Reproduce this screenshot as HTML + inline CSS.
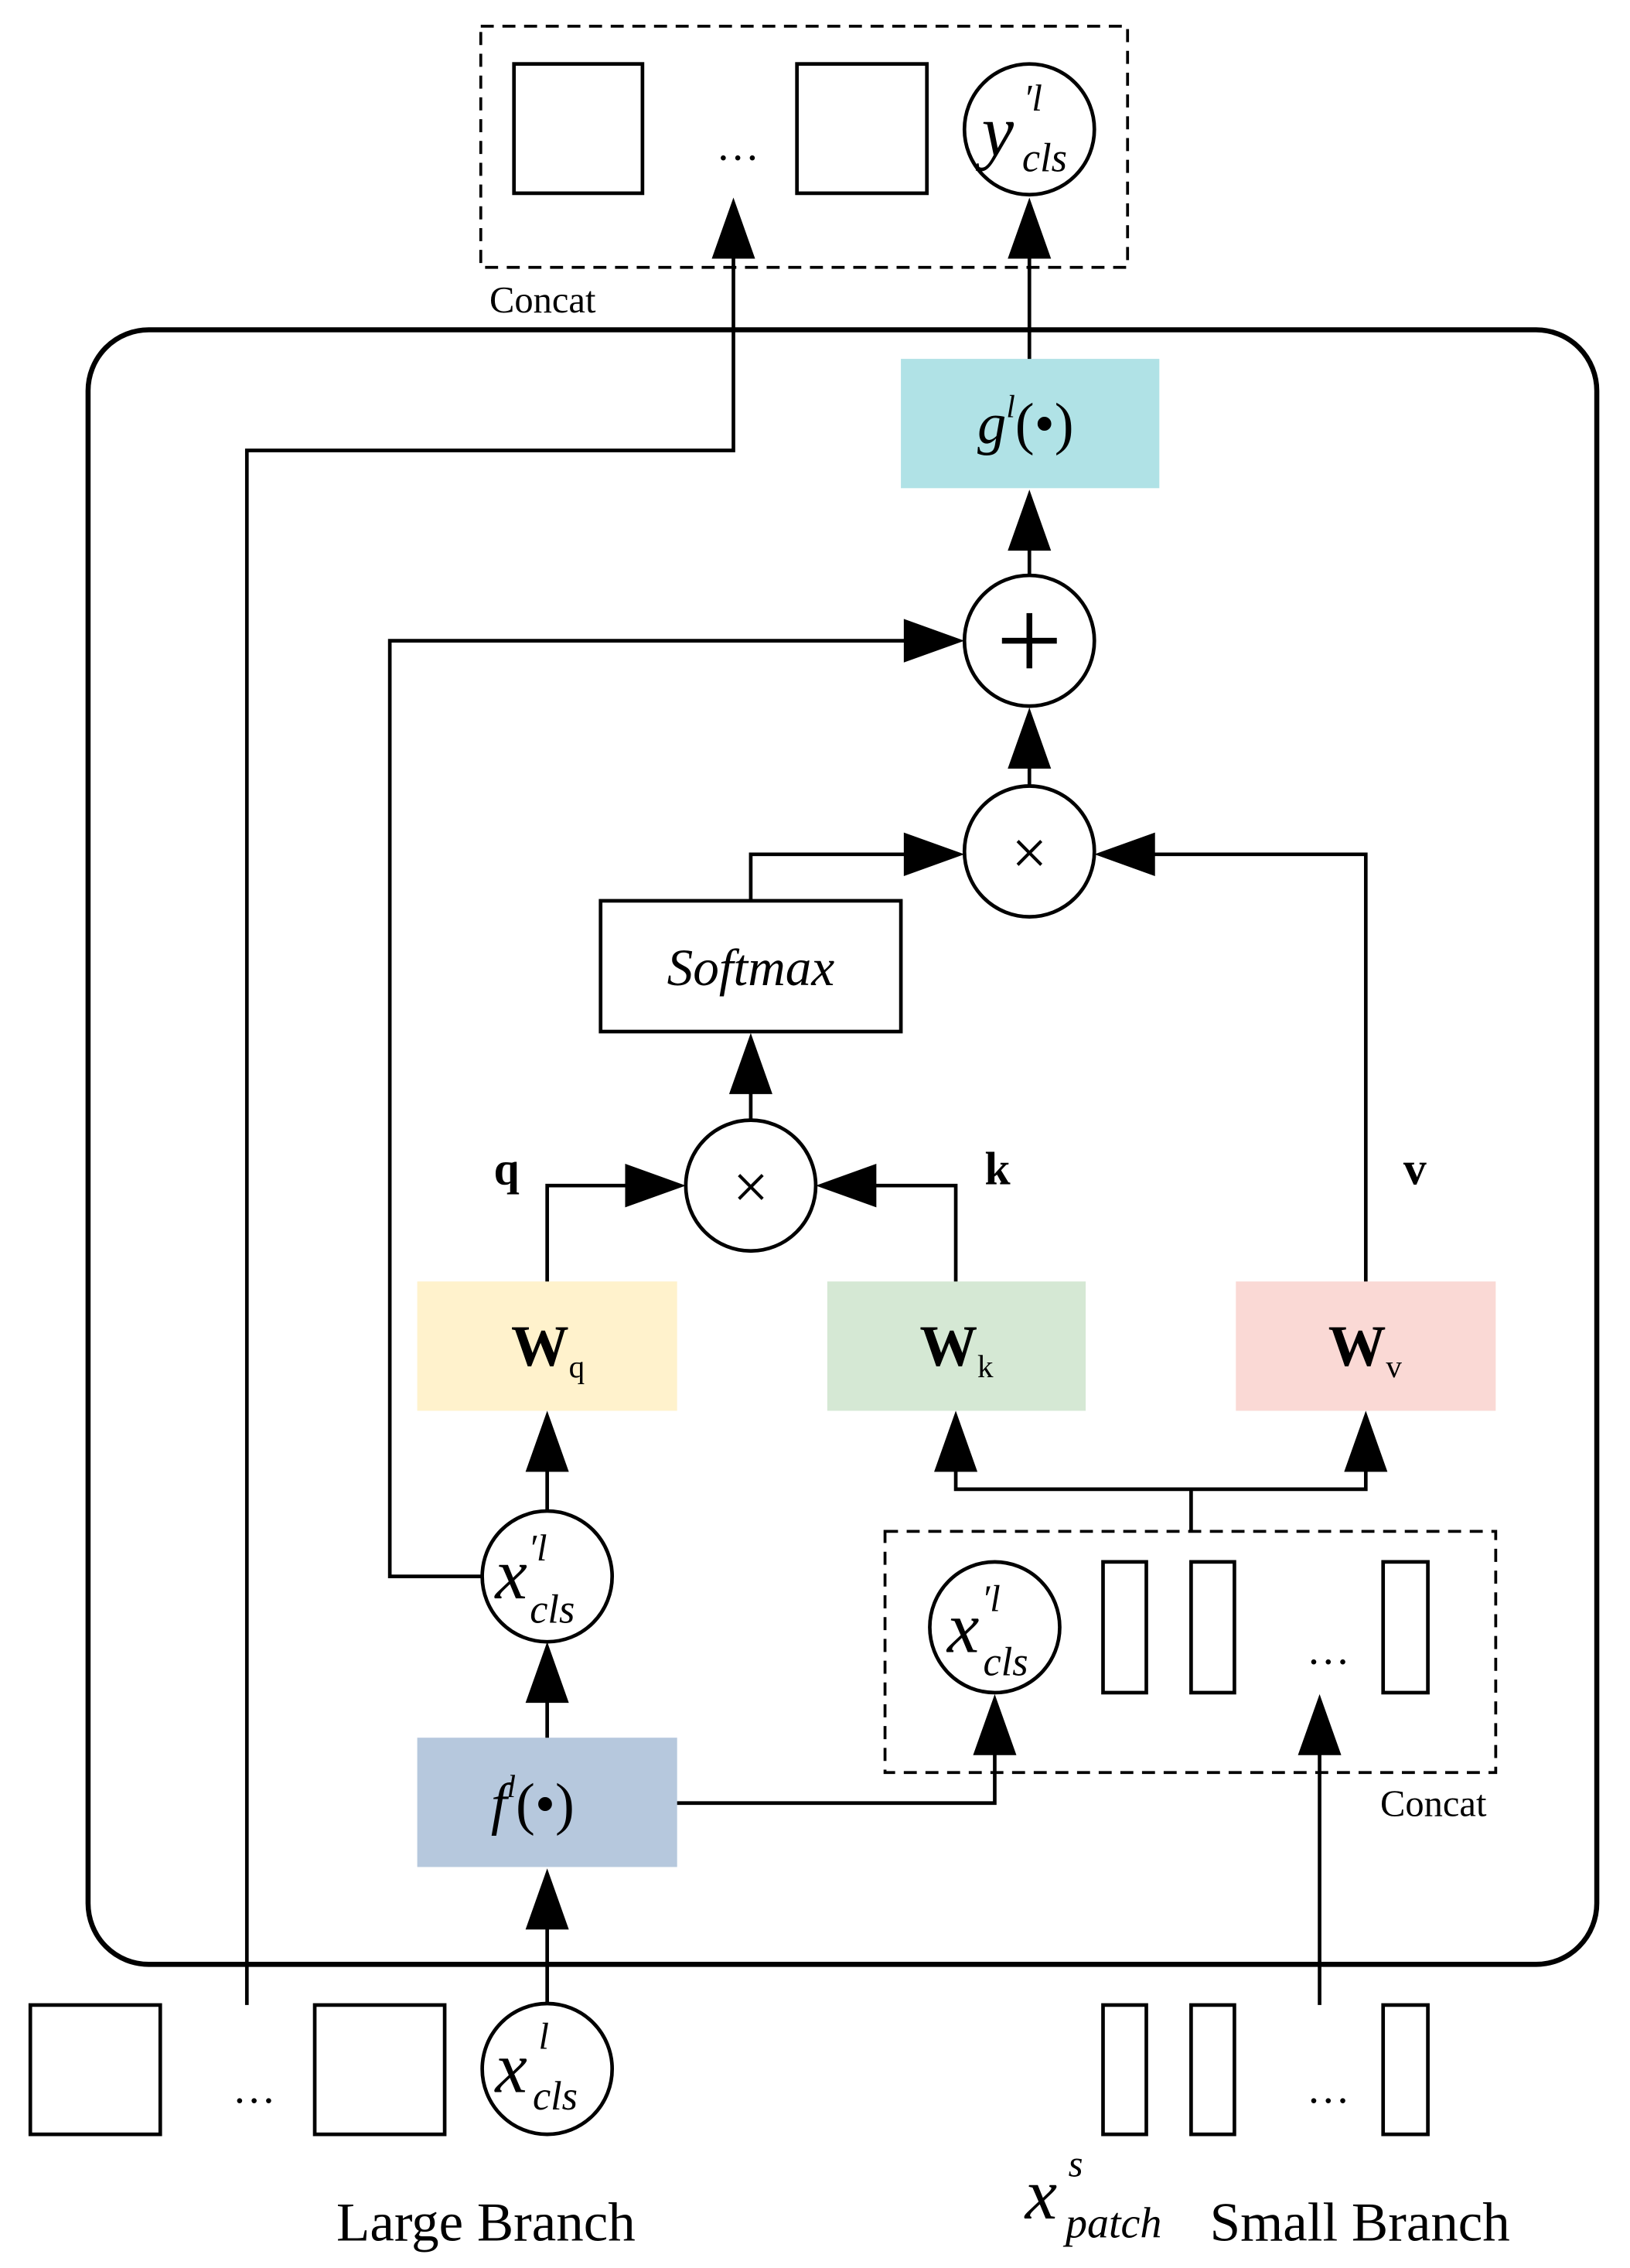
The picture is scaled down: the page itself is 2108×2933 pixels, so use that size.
<!DOCTYPE html>
<html><head><meta charset="utf-8"><style>html,body{margin:0;padding:0;background:#fff}svg{display:block}</style></head>
<body>
<svg width="2108" height="2933" viewBox="0 0 1129 1561" preserveAspectRatio="none" xmlns="http://www.w3.org/2000/svg" font-family="'Liberation Serif', serif">
<g fill="none" stroke="#000" stroke-width="2.5">
<rect x="333" y="18" width="448" height="166" stroke-dasharray="9,6" stroke-width="2"/>
<rect x="356" y="44" width="89" height="89"/>
<rect x="552" y="44" width="90" height="89"/>
<circle cx="713" cy="89" r="45"/>
<rect x="61" y="227" width="1045" height="1125" rx="42" stroke-width="3.5"/>
</g>
<rect x="624" y="247" width="179" height="89" fill="#b0e2e6"/>
<rect x="289" y="882" width="180" height="89" fill="#fff2cc"/>
<rect x="573" y="882" width="179" height="89" fill="#d5e8d4"/>
<rect x="856" y="882" width="180" height="89" fill="#fad9d5"/>
<rect x="289" y="1196" width="180" height="89" fill="#b6c8dd"/>
<g fill="none" stroke="#000" stroke-width="2.5">
<rect x="416" y="620" width="208" height="90"/>
<circle cx="713" cy="441" r="45"/>
<circle cx="713" cy="586" r="45"/>
<circle cx="520" cy="816" r="45"/>
<circle cx="379" cy="1085" r="45"/>
<circle cx="379" cy="1424" r="45"/>
<rect x="613" y="1054" width="423" height="166" stroke-dasharray="9,6" stroke-width="2"/>
<circle cx="689" cy="1120" r="45"/>
<rect x="764" y="1075" width="30" height="90"/>
<rect x="825" y="1075" width="30" height="90"/>
<rect x="958" y="1075" width="31" height="90"/>
<rect x="21" y="1380" width="90" height="89"/>
<rect x="218" y="1380" width="90" height="89"/>
<rect x="764" y="1380" width="30" height="89"/>
<rect x="825" y="1380" width="30" height="89"/>
<rect x="958" y="1380" width="31" height="89"/>
<polyline points="713,247 713,170"/>
<polyline points="171,1380 171,310 508,310 508,170"/>
<polyline points="713,396 713,370"/>
<polyline points="334,1085 270,1085 270,441 640,441"/>
<polyline points="713,541 713,515"/>
<polyline points="520,620 520,588 640,588"/>
<polyline points="946,882 946,588 786,588"/>
<polyline points="520,771 520,740"/>
<polyline points="379,882 379,816 447,816"/>
<polyline points="662,882 662,816 593,816"/>
<polyline points="379,1040 379,1000"/>
<polyline points="379,1196 379,1160"/>
<polyline points="379,1379 379,1315"/>
<polyline points="469,1241 689,1241 689,1195"/>
<polyline points="825,1054 825,1025"/>
<polyline points="662,1000 662,1025 946,1025 946,1000"/>
<polyline points="914,1380 914,1195"/>
</g>
<g fill="#000">
<polygon points="508,136 493,178 523,178"/>
<polygon points="713,136 698,178 728,178"/>
<polygon points="713,337 698,379 728,379"/>
<polygon points="713,487 698,529 728,529"/>
<polygon points="668,441 626,426 626,456"/>
<polygon points="668,588 626,573 626,603"/>
<polygon points="758,588 800,573 800,603"/>
<polygon points="520,711 505,753 535,753"/>
<polygon points="475,816 433,801 433,831"/>
<polygon points="565,816 607,801 607,831"/>
<polygon points="379,971 364,1013 394,1013"/>
<polygon points="379,1130 364,1172 394,1172"/>
<polygon points="379,1286 364,1328 394,1328"/>
<polygon points="662,971 647,1013 677,1013"/>
<polygon points="946,971 931,1013 961,1013"/>
<polygon points="689,1166 674,1208 704,1208"/>
<polygon points="914,1166 899,1208 929,1208"/>
<rect x="711" y="422" width="4" height="38"/>
<rect x="694" y="439" width="38" height="4"/>
</g>
<g fill="#000" font-size="30">
<text x="496" y="110">…</text>
<text x="339" y="215" font-size="26">Concat</text>
<text x="956" y="1250" font-size="26">Concat</text>
<text x="905" y="1145">…</text>
<text x="905" y="1447">…</text>
<text x="161" y="1447">…</text>
<text x="713" y="587" font-size="44" text-anchor="middle" dominant-baseline="central">×</text>
<text x="520" y="817" font-size="44" text-anchor="middle" dominant-baseline="central">×</text>
<text x="520" y="678" font-size="36" font-style="italic" text-anchor="middle">Softmax</text>
<text x="342" y="815" font-size="32" font-weight="bold">q</text>
<text x="682" y="815" font-size="32" font-weight="bold">k</text>
<text x="972" y="815" font-size="32" font-weight="bold">v</text>
<text x="354" y="940" font-size="40" font-weight="bold">W<tspan font-size="22" dy="8" font-weight="normal">q</tspan></text>
<text x="637" y="940" font-size="40" font-weight="bold">W<tspan font-size="22" dy="8" font-weight="normal">k</tspan></text>
<text x="920" y="940" font-size="40" font-weight="bold">W<tspan font-size="22" dy="8" font-weight="normal">v</tspan></text>
<text x="677" y="305" font-size="40"><tspan font-style="italic">g</tspan><tspan font-style="italic" font-size="22" dy="-18">l</tspan><tspan dy="18">(•)</tspan></text>
<text x="340" y="1255" font-size="40"><tspan font-style="italic">f</tspan><tspan font-style="italic" font-size="22" dy="-18">l</tspan><tspan dy="18">(•)</tspan></text>
<g font-style="italic">
<text x="680" y="107" font-size="50">y</text><text x="709" y="76" font-size="26">′l</text><text x="708" y="118" font-size="28">cls</text>
<text x="343" y="1100" font-size="50">x</text><text x="366" y="1074" font-size="26">′l</text><text x="367" y="1117" font-size="28">cls</text>
<text x="656" y="1137" font-size="50">x</text><text x="680" y="1109" font-size="26">′l</text><text x="681" y="1153" font-size="28">cls</text>
<text x="343" y="1440" font-size="50">x</text><text x="373" y="1410" font-size="26">l</text><text x="369" y="1452" font-size="28">cls</text>
<text x="710" y="1527" font-size="50">x</text><text x="740" y="1498" font-size="26">s</text><text x="738" y="1540" font-size="30">patch</text>
</g>
<text x="233" y="1542" font-size="38">Large Branch</text>
<text x="838" y="1542" font-size="38">Small Branch</text>
</g>
</svg>
</body></html>
